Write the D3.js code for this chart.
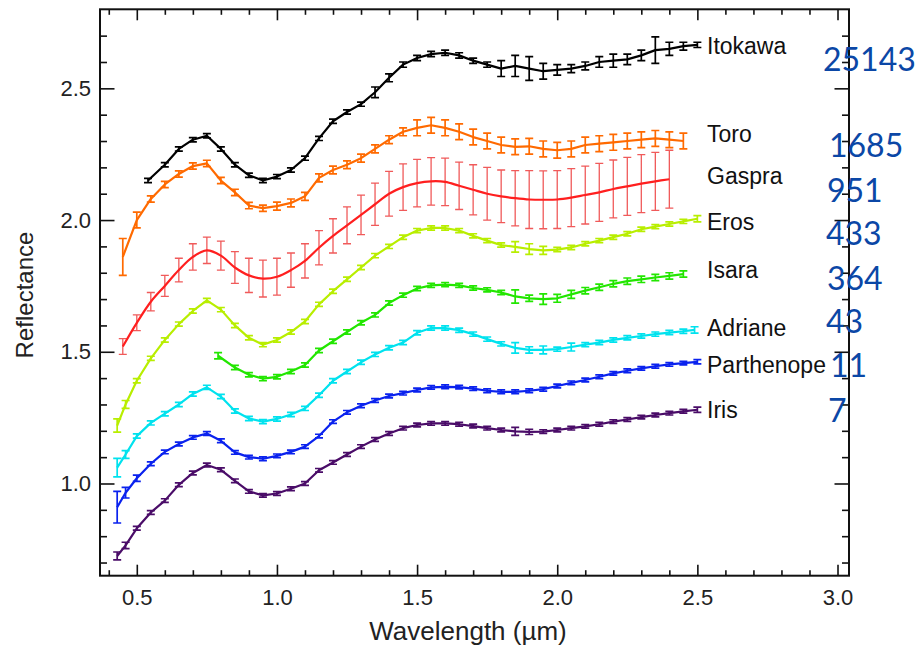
<!DOCTYPE html>
<html>
<head>
<meta charset="utf-8">
<script src="https://cdn.jsdelivr.net/npm/d3@7"></script>
<style>
body { margin: 0; background: #fff; }
.axis text { font-family: 'Liberation Sans', Arial, sans-serif; font-size: 22px; fill: #222; }
.axis line { stroke: #111; stroke-width: 1.6; }
.axis path { display: none; }
.name { font-family: 'Liberation Sans', Arial, sans-serif; font-size: 23px; fill: #111; }
.num { font-family: Lato, 'Open Sans', sans-serif; font-size: 32px; fill: #0b47a6; }
.title { font-family: 'Liberation Sans', Arial, sans-serif; font-size: 24px; fill: #222; }
</style>
</head>
<body>
<script>
// asteroid names and numbers, top to bottom
var names = ['Itokawa', 'Toro', 'Gaspra', 'Eros', 'Isara', 'Adriane', 'Parthenope', 'Iris'];
var numbers = ['25143', '1685', '951', '433', '364', '43', '11', '7'];
var colors = ['#000000', '#ff6a00', '#ff1f1f', '#b8ee00', '#22e600', '#00e2ee', '#0a22ee', '#4a0c68'];

// axis ticks
var xMajor = [0.5, 1.0, 1.5, 2.0, 2.5, 3.0];
var xMinor = [0.4, 0.6, 0.7, 0.8, 0.9, 1.1, 1.2, 1.3, 1.4, 1.6, 1.7, 1.8, 1.9, 2.1, 2.2, 2.3, 2.4, 2.6, 2.7, 2.8, 2.9];
var yMajor = [1.0, 1.5, 2.0, 2.5];
var yMinor = [0.7, 0.8, 0.9, 1.1, 1.2, 1.3, 1.4, 1.6, 1.7, 1.8, 1.9, 2.1, 2.2, 2.3, 2.4, 2.6, 2.7];

// spectra: wavelength (um), reflectance, error
var wlItokawa = [0.54, 0.60, 0.65, 0.70, 0.75, 0.80, 0.85, 0.90, 0.95, 1.00, 1.05, 1.10, 1.15, 1.20, 1.25, 1.30, 1.35, 1.40, 1.45, 1.50,
  1.55, 1.60, 1.65, 1.70, 1.75, 1.80, 1.85, 1.90, 1.95, 2.00, 2.05, 2.10, 2.15, 2.20, 2.25, 2.30, 2.35, 2.40, 2.45, 2.50];
var rItokawa = [2.15, 2.21, 2.27, 2.305, 2.32, 2.27, 2.21, 2.17, 2.15, 2.165, 2.19, 2.235, 2.31, 2.375, 2.41, 2.44, 2.485, 2.54, 2.59, 2.615,
  2.63, 2.635, 2.625, 2.605, 2.59, 2.575, 2.585, 2.575, 2.565, 2.57, 2.575, 2.585, 2.60, 2.605, 2.61, 2.625, 2.645, 2.65, 2.66, 2.665];
var eItokawa = [0.008, 0.008, 0.008, 0.008, 0.008, 0.008, 0.008, 0.008, 0.008, 0.008, 0.008, 0.008, 0.008, 0.008, 0.008, 0.008, 0.02, 0.015, 0.01, 0.01,
  0.01, 0.01, 0.01, 0.01, 0.01, 0.03, 0.04, 0.045, 0.03, 0.02, 0.015, 0.015, 0.02, 0.025, 0.02, 0.02, 0.05, 0.025, 0.015, 0.01];

var wlToro = [0.45, 0.50, 0.55, 0.60, 0.65, 0.70, 0.75, 0.80, 0.85, 0.90, 0.95, 1.00, 1.05, 1.10, 1.15, 1.20, 1.25, 1.30, 1.35, 1.40, 1.45,
  1.50, 1.55, 1.60, 1.65, 1.70, 1.75, 1.80, 1.85, 1.90, 1.95, 2.00, 2.05, 2.10, 2.15, 2.20, 2.25, 2.30, 2.35, 2.40, 2.45];
var rToro = [1.86, 2.00, 2.08, 2.135, 2.175, 2.205, 2.215, 2.15, 2.105, 2.055, 2.045, 2.053, 2.065, 2.09, 2.16, 2.19, 2.21, 2.235, 2.27, 2.305, 2.335,
  2.35, 2.36, 2.35, 2.335, 2.315, 2.30, 2.285, 2.278, 2.28, 2.27, 2.265, 2.27, 2.285, 2.29, 2.295, 2.30, 2.305, 2.31, 2.305, 2.30];
var eToro = [0.07, 0.03, 0.012, 0.012, 0.012, 0.012, 0.012, 0.012, 0.012, 0.012, 0.012, 0.015, 0.015, 0.015, 0.015, 0.015, 0.015, 0.015, 0.015, 0.015, 0.015,
  0.03, 0.03, 0.03, 0.03, 0.03, 0.03, 0.03, 0.03, 0.03, 0.03, 0.03, 0.03, 0.03, 0.03, 0.03, 0.03, 0.03, 0.03, 0.03, 0.03];

var wlGaspra = [0.45, 0.50, 0.55, 0.60, 0.65, 0.70, 0.75, 0.80, 0.85, 0.90, 0.95, 1.00, 1.05, 1.10, 1.15, 1.20, 1.25, 1.30, 1.35, 1.40,
  1.45, 1.50, 1.55, 1.60, 1.65, 1.70, 1.75, 1.80, 1.85, 1.90, 1.95, 2.00, 2.05, 2.10, 2.15, 2.20, 2.25, 2.30, 2.35, 2.40];
var rGaspra = [1.52, 1.61, 1.69, 1.75, 1.81, 1.86, 1.885, 1.865, 1.82, 1.79, 1.778, 1.785, 1.81, 1.845, 1.895, 1.94, 1.98, 2.02, 2.06, 2.10,
  2.125, 2.14, 2.147, 2.145, 2.13, 2.115, 2.10, 2.09, 2.083, 2.078, 2.077, 2.078, 2.085, 2.095, 2.105, 2.118, 2.128, 2.138, 2.147, 2.155];
var eGaspra = [0.03, 0.03, 0.035, 0.04, 0.045, 0.05, 0.05, 0.055, 0.06, 0.065, 0.07, 0.07, 0.065, 0.065, 0.065, 0.065, 0.07, 0.075, 0.08, 0.085,
  0.088, 0.09, 0.09, 0.09, 0.09, 0.095, 0.1, 0.1, 0.105, 0.11, 0.11, 0.11, 0.11, 0.11, 0.11, 0.11, 0.11, 0.11, 0.11, 0.11];

var wlEros = [0.43, 0.46, 0.50, 0.55, 0.60, 0.65, 0.70, 0.75, 0.80, 0.85, 0.90, 0.95, 1.00, 1.05, 1.10, 1.15, 1.20, 1.25, 1.30, 1.35, 1.40, 1.45,
  1.50, 1.55, 1.60, 1.65, 1.70, 1.75, 1.80, 1.85, 1.90, 1.95, 2.00, 2.05, 2.10, 2.15, 2.20, 2.25, 2.30, 2.35, 2.40, 2.45, 2.50];
var rEros = [1.22, 1.30, 1.39, 1.475, 1.545, 1.605, 1.655, 1.695, 1.66, 1.60, 1.553, 1.527, 1.545, 1.575, 1.615, 1.68, 1.73, 1.775, 1.82, 1.865, 1.90, 1.935,
  1.96, 1.97, 1.97, 1.96, 1.94, 1.922, 1.905, 1.898, 1.89, 1.885, 1.888, 1.896, 1.91, 1.922, 1.935, 1.948, 1.965, 1.975, 1.985, 1.995, 2.005];
var eEros = [0.025, 0.015, 0.008, 0.008, 0.008, 0.008, 0.008, 0.008, 0.008, 0.008, 0.008, 0.008, 0.008, 0.008, 0.008, 0.008, 0.008, 0.008, 0.008, 0.008, 0.008, 0.008,
  0.008, 0.008, 0.008, 0.008, 0.008, 0.008, 0.008, 0.02, 0.02, 0.015, 0.008, 0.008, 0.008, 0.008, 0.008, 0.008, 0.008, 0.008, 0.008, 0.008, 0.012];

var wlIsara = [0.79, 0.85, 0.90, 0.95, 1.00, 1.05, 1.10, 1.15, 1.20, 1.25, 1.30, 1.35, 1.40, 1.45, 1.50, 1.55, 1.60,
  1.65, 1.70, 1.75, 1.80, 1.85, 1.90, 1.95, 2.00, 2.05, 2.10, 2.15, 2.20, 2.25, 2.30, 2.35, 2.40, 2.45];
var rIsara = [1.485, 1.44, 1.413, 1.398, 1.405, 1.425, 1.45, 1.505, 1.54, 1.575, 1.61, 1.64, 1.685, 1.715, 1.74, 1.752, 1.755,
  1.752, 1.742, 1.735, 1.725, 1.71, 1.703, 1.70, 1.703, 1.718, 1.732, 1.745, 1.758, 1.768, 1.775, 1.782, 1.788, 1.795];
var eIsara = [0.012, 0.008, 0.008, 0.008, 0.008, 0.008, 0.008, 0.008, 0.008, 0.008, 0.008, 0.008, 0.008, 0.008, 0.008, 0.008, 0.008,
  0.008, 0.008, 0.008, 0.008, 0.025, 0.012, 0.02, 0.015, 0.015, 0.012, 0.012, 0.012, 0.012, 0.012, 0.012, 0.012, 0.012];

var wlAdriane = [0.43, 0.46, 0.50, 0.55, 0.60, 0.65, 0.70, 0.75, 0.80, 0.85, 0.90, 0.95, 1.00, 1.05, 1.10, 1.15, 1.20, 1.25, 1.30, 1.35, 1.40, 1.45,
  1.50, 1.55, 1.60, 1.65, 1.70, 1.75, 1.80, 1.85, 1.90, 1.95, 2.00, 2.05, 2.10, 2.15, 2.20, 2.25, 2.30, 2.35, 2.40, 2.45, 2.49];
var rAdriane = [1.06, 1.11, 1.18, 1.23, 1.265, 1.30, 1.34, 1.365, 1.33, 1.275, 1.247, 1.235, 1.245, 1.262, 1.285, 1.335, 1.39, 1.425, 1.46, 1.49, 1.515, 1.535,
  1.572, 1.59, 1.59, 1.582, 1.567, 1.548, 1.53, 1.515, 1.507, 1.507, 1.51, 1.518, 1.527, 1.535, 1.545, 1.553, 1.56, 1.567, 1.573, 1.578, 1.583];
var eAdriane = [0.035, 0.015, 0.008, 0.008, 0.008, 0.008, 0.008, 0.008, 0.008, 0.008, 0.008, 0.008, 0.008, 0.008, 0.008, 0.008, 0.008, 0.008, 0.008, 0.008, 0.008, 0.008,
  0.008, 0.008, 0.008, 0.008, 0.008, 0.008, 0.008, 0.02, 0.012, 0.015, 0.008, 0.015, 0.008, 0.008, 0.008, 0.008, 0.008, 0.008, 0.008, 0.008, 0.012];

var wlParthenope = [0.43, 0.46, 0.50, 0.55, 0.60, 0.65, 0.70, 0.75, 0.80, 0.85, 0.90, 0.95, 1.00, 1.05, 1.10, 1.15, 1.20, 1.25, 1.30, 1.35, 1.40, 1.45,
  1.50, 1.55, 1.60, 1.65, 1.70, 1.75, 1.80, 1.85, 1.90, 1.95, 2.00, 2.05, 2.10, 2.15, 2.20, 2.25, 2.30, 2.35, 2.40, 2.45, 2.50];
var rParthenope = [0.91, 0.965, 1.02, 1.075, 1.12, 1.15, 1.175, 1.19, 1.162, 1.118, 1.10, 1.094, 1.105, 1.12, 1.14, 1.18, 1.235, 1.27, 1.295, 1.315, 1.332, 1.343,
  1.355, 1.365, 1.367, 1.366, 1.36, 1.352, 1.348, 1.348, 1.352, 1.358, 1.37, 1.382, 1.393, 1.405, 1.418, 1.428, 1.437, 1.445, 1.452, 1.457, 1.462];
var eParthenope = [0.06, 0.02, 0.012, 0.007, 0.007, 0.007, 0.007, 0.007, 0.007, 0.007, 0.007, 0.007, 0.007, 0.007, 0.007, 0.007, 0.007, 0.007, 0.007, 0.007, 0.007, 0.007,
  0.007, 0.007, 0.007, 0.007, 0.007, 0.007, 0.007, 0.007, 0.007, 0.007, 0.007, 0.007, 0.007, 0.007, 0.007, 0.007, 0.007, 0.007, 0.007, 0.007, 0.008];

var wlIris = [0.43, 0.46, 0.50, 0.55, 0.60, 0.65, 0.70, 0.75, 0.80, 0.85, 0.90, 0.95, 1.00, 1.05, 1.10, 1.15, 1.20, 1.25, 1.30, 1.35, 1.40, 1.45,
  1.50, 1.55, 1.60, 1.65, 1.70, 1.75, 1.80, 1.85, 1.90, 1.95, 2.00, 2.05, 2.10, 2.15, 2.20, 2.25, 2.30, 2.35, 2.40, 2.45, 2.50];
var rIris = [0.725, 0.765, 0.83, 0.89, 0.935, 0.995, 1.04, 1.07, 1.052, 1.01, 0.97, 0.955, 0.962, 0.98, 1.0, 1.05, 1.08, 1.11, 1.14, 1.167, 1.19, 1.21,
  1.222, 1.228, 1.228, 1.225, 1.218, 1.21, 1.203, 1.198, 1.196, 1.197, 1.203, 1.21, 1.217, 1.225, 1.235, 1.243, 1.252, 1.26, 1.267, 1.274, 1.28];
var eIris = [0.015, 0.012, 0.007, 0.007, 0.007, 0.007, 0.007, 0.007, 0.007, 0.007, 0.007, 0.007, 0.007, 0.007, 0.007, 0.007, 0.007, 0.007, 0.007, 0.007, 0.007, 0.007,
  0.007, 0.007, 0.007, 0.007, 0.007, 0.007, 0.007, 0.015, 0.01, 0.007, 0.007, 0.007, 0.007, 0.007, 0.007, 0.007, 0.007, 0.007, 0.007, 0.007, 0.01];

// label layout (pixels)
var nameY = [54, 142, 184, 230, 278, 336, 373, 418];
var numX = [823, 829, 827, 826, 827, 826, 830, 828];
var numY = [71, 157, 202, 245, 290, 333, 377, 422];

// builds a path string of error bars with caps
function errorPath(x, y, wl, r, err, capW) {
  var p = '';
  for (var i = 0; i < wl.length; i++) {
    var cx = x(wl[i]);
    var y1 = y(r[i] + err[i]);
    var y2 = y(r[i] - err[i]);
    p += 'M' + (cx - capW) + ',' + y1 + 'H' + (cx + capW) +
      'M' + cx + ',' + y1 + 'V' + y2 +
      'M' + (cx - capW) + ',' + y2 + 'H' + (cx + capW);
  }
  return p;
}

function drawSvg() {
  var svg = d3.select('body')
    .append('svg')
    .attr('width', 921)
    .attr('height', 649);

  var left = 100, right = 849, top = 9.3, bottom = 575.7;

  var x = d3.scaleLinear().domain([0.3687, 3.041]).range([left, right]);
  var y = d3.scaleLinear().domain([0.65, 2.8]).range([bottom, top]);

  var series = [
    [wlItokawa, rItokawa, eItokawa],
    [wlToro, rToro, eToro],
    [wlGaspra, rGaspra, eGaspra],
    [wlEros, rEros, eEros],
    [wlIsara, rIsara, eIsara],
    [wlAdriane, rAdriane, eAdriane],
    [wlParthenope, rParthenope, eParthenope],
    [wlIris, rIris, eIris]
  ];

  var plot = svg.append('g');

  series.forEach(function (s, k) {
    var pts = s[0].map(function (w, i) { return [w, s[1][i]]; });
    var smooth = names[k] === 'Gaspra';
    var line = d3.line()
      .x(function (d) { return x(d[0]); })
      .y(function (d) { return y(d[1]); })
      .curve(smooth ? d3.curveCatmullRom : d3.curveLinear);

    // error bars
    plot.append('path')
      .attr('d', errorPath(x, y, s[0], s[1], s[2], 4))
      .attr('fill', 'none')
      .attr('stroke', smooth ? '#f05a5a' : colors[k])
      .attr('stroke-width', smooth ? 1.3 : 1.7);

    plot.append('path')
      .datum(pts)
      .attr('d', line)
      .attr('fill', 'none')
      .attr('stroke', colors[k])
      .attr('stroke-width', 2.2)
      .attr('stroke-linejoin', 'round');
  });

  // axes with inward ticks
  var fmt = d3.format('.1f');
  svg.append('g').attr('class', 'axis')
    .attr('transform', 'translate(0,' + bottom + ')')
    .call(d3.axisBottom(x).tickValues(xMajor).tickSize(-11).tickPadding(14).tickFormat(fmt));
  svg.append('g').attr('class', 'axis')
    .attr('transform', 'translate(0,' + bottom + ')')
    .call(d3.axisBottom(x).tickValues(xMinor).tickSize(-5.5).tickFormat(''));
  svg.append('g').attr('class', 'axis')
    .attr('transform', 'translate(0,' + top + ')')
    .call(d3.axisTop(x).tickValues(xMajor).tickSize(-11).tickFormat(''));
  svg.append('g').attr('class', 'axis')
    .attr('transform', 'translate(0,' + top + ')')
    .call(d3.axisTop(x).tickValues(xMinor).tickSize(-5.5).tickFormat(''));

  svg.append('g').attr('class', 'axis')
    .attr('transform', 'translate(' + left + ',0)')
    .call(d3.axisLeft(y).tickValues(yMajor).tickSize(-14.5).tickPadding(9).tickFormat(fmt));
  svg.append('g').attr('class', 'axis')
    .attr('transform', 'translate(' + left + ',0)')
    .call(d3.axisLeft(y).tickValues(yMinor).tickSize(-7).tickFormat(''));
  svg.append('g').attr('class', 'axis')
    .attr('transform', 'translate(' + right + ',0)')
    .call(d3.axisRight(y).tickValues(yMajor).tickSize(-14.5).tickFormat(''));
  svg.append('g').attr('class', 'axis')
    .attr('transform', 'translate(' + right + ',0)')
    .call(d3.axisRight(y).tickValues(yMinor).tickSize(-7).tickFormat(''));

  // frame
  svg.append('rect')
    .attr('x', left).attr('y', top)
    .attr('width', right - left).attr('height', bottom - top)
    .attr('fill', 'none')
    .attr('stroke', '#111')
    .attr('stroke-width', 2);

  // axis titles
  svg.append('text').attr('class', 'title')
    .attr('x', 468).attr('y', 640)
    .attr('text-anchor', 'middle')
    .style('font-size', '26px')
    .text('Wavelength (\u00b5m)');
  svg.append('text').attr('class', 'title')
    .attr('transform', 'translate(33,295) rotate(-90)')
    .attr('text-anchor', 'middle')
    .text('Reflectance');

  // names and asteroid numbers
  svg.selectAll('.name')
    .data(names)
    .enter()
    .append('text')
    .attr('class', 'name')
    .attr('x', 707)
    .attr('y', function (d, i) { return nameY[i]; })
    .text(function (d) { return d; });

  svg.selectAll('.num')
    .data(numbers)
    .enter()
    .append('text')
    .attr('class', 'num')
    .attr('x', function (d, i) { return numX[i]; })
    .attr('y', function (d, i) { return numY[i]; })
    .text(function (d) { return d; });
}

drawSvg();
</script>
</body>
</html>
